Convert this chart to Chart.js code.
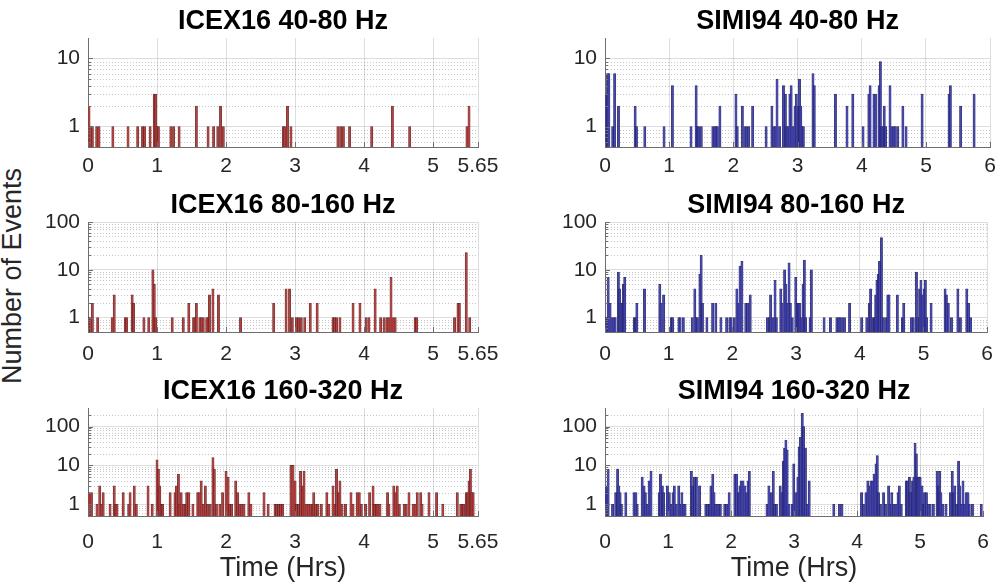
<!DOCTYPE html>
<html>
<head>
<meta charset="utf-8">
<title>Event histograms</title>
<script src="https://cdn.jsdelivr.net/npm/chart.js"></script>
<style>
body {
  margin: 0;
  background: #fff;
  width: 1003px;
  height: 586px;
  overflow: hidden;
  position: relative;
  font-family: "Liberation Sans", Arial, sans-serif;
}
canvas {
  position: absolute;
  left: 0;
  top: 0;
}
#ylab {
  position: absolute;
  left: 12px;
  top: 276px;
  transform: translate(-50%, -50%) rotate(-90deg);
  font-size: 27px;
  color: #262626;
  white-space: nowrap;
}
</style>
</head>
<body>
<div id="ylab">Number of Events</div>
<script>
// [hours, events] per 2-minute bin (empty bins left out)
const icex40 = [
  [0.015, 2], [0.043, 1], [0.063, 1], [0.126, 1], [0.16, 1], [0.36, 1], [0.58, 1], [0.72, 1],
  [0.79, 1], [0.82, 1], [0.90, 1], [0.96, 3], [0.98, 3], [1.0, 1], [1.02, 1], [1.20, 1],
  [1.24, 1], [1.32, 1], [1.57, 2], [1.74, 1], [1.82, 1], [1.88, 1], [1.92, 2], [1.96, 1],
  [2.83, 1], [2.85, 1], [2.89, 2], [2.94, 1], [3.62, 1], [3.66, 1], [3.70, 1], [3.79, 1],
  [4.11, 1], [4.41, 2], [4.66, 1], [5.49, 1], [5.52, 2]
];
const icex80 = [
  [0.01, 1], [0.034, 1], [0.063, 2], [0.14, 1], [0.35, 1], [0.38, 3], [0.54, 1], [0.56, 1],
  [0.64, 3], [0.66, 2], [0.81, 1], [0.88, 1], [0.94, 10], [0.96, 5], [0.98, 1], [1.22, 1],
  [1.38, 1], [1.46, 2], [1.53, 1], [1.55, 1], [1.57, 2], [1.62, 1], [1.64, 1], [1.67, 1],
  [1.72, 1], [1.74, 1], [1.76, 3], [1.81, 4], [1.89, 3], [2.21, 1], [2.69, 2], [2.87, 4],
  [2.92, 4], [2.96, 1], [3.02, 1], [3.05, 1], [3.09, 1], [3.14, 1], [3.22, 2], [3.32, 2],
  [3.55, 1], [3.57, 1], [3.60, 1], [3.65, 1], [3.84, 2], [3.94, 2], [4.03, 1], [4.07, 1],
  [4.16, 4], [4.24, 1], [4.29, 1], [4.33, 1], [4.36, 1], [4.39, 7], [4.42, 1], [4.45, 1],
  [4.74, 1], [4.76, 1], [5.31, 1], [5.36, 2], [5.38, 2], [5.48, 23], [5.53, 1]
];
const icex160 = [
  [0.01, 2], [0.05, 2], [0.13, 1], [0.17, 3], [0.19, 1], [0.22, 2], [0.32, 1], [0.38, 3],
  [0.40, 1], [0.42, 1], [0.51, 2], [0.59, 1], [0.61, 2], [0.67, 3], [0.70, 1], [0.87, 3],
  [0.93, 1], [1.00, 14], [1.02, 8], [1.04, 3], [1.06, 1], [1.08, 1], [1.19, 2], [1.26, 2],
  [1.28, 3], [1.31, 6], [1.33, 1], [1.35, 2], [1.38, 1], [1.41, 1], [1.43, 2], [1.46, 2],
  [1.52, 1], [1.59, 2], [1.61, 2], [1.64, 4], [1.67, 1], [1.70, 3], [1.73, 1], [1.77, 1],
  [1.81, 16], [1.83, 8], [1.86, 1], [1.91, 1], [1.95, 2], [2.00, 7], [2.03, 5], [2.05, 1],
  [2.08, 1], [2.14, 4], [2.17, 2], [2.20, 1], [2.23, 1], [2.26, 1], [2.33, 2], [2.36, 1],
  [2.55, 2], [2.61, 1], [2.71, 1], [2.73, 1], [2.76, 1], [2.79, 1], [2.82, 1], [2.94, 10],
  [2.97, 10], [3.00, 4], [3.02, 1], [3.05, 1], [3.08, 7], [3.11, 3], [3.13, 7], [3.16, 1],
  [3.19, 1], [3.22, 1], [3.25, 1], [3.27, 2], [3.30, 1], [3.33, 1], [3.38, 1], [3.46, 2],
  [3.49, 1], [3.55, 3], [3.58, 1], [3.60, 8], [3.63, 2], [3.65, 4], [3.68, 1], [3.73, 1],
  [3.81, 2], [3.84, 1], [3.90, 2], [3.93, 2], [3.96, 1], [4.02, 1], [4.08, 2], [4.13, 3],
  [4.15, 1], [4.18, 1], [4.20, 1], [4.23, 1], [4.34, 2], [4.36, 1], [4.43, 3], [4.45, 2],
  [4.48, 3], [4.51, 1], [4.58, 1], [4.61, 1], [4.65, 2], [4.71, 1], [4.74, 1], [4.77, 2],
  [4.82, 2], [4.84, 1], [4.94, 2], [5.05, 2], [5.14, 1], [5.35, 2], [5.40, 1], [5.42, 1],
  [5.44, 1], [5.48, 2], [5.50, 2], [5.52, 4], [5.54, 8], [5.56, 2], [5.58, 2]
];
const simi40 = [
  [0.01, 3], [0.04, 6], [0.06, 6], [0.12, 1], [0.15, 6], [0.21, 2], [0.47, 2], [0.49, 1],
  [0.62, 1], [0.92, 1], [1.05, 4], [1.34, 1], [1.42, 4], [1.44, 1], [1.46, 1], [1.50, 1],
  [1.68, 1], [1.71, 1], [1.73, 1], [1.75, 1], [1.79, 2], [2.04, 3], [2.06, 1], [2.14, 2],
  [2.18, 1], [2.21, 1], [2.24, 1], [2.30, 2], [2.51, 1], [2.60, 2], [2.63, 1], [2.65, 1],
  [2.68, 5], [2.72, 1], [2.78, 4], [2.81, 3], [2.83, 1], [2.85, 1], [2.88, 3], [2.90, 4],
  [2.93, 1], [2.96, 2], [2.98, 3], [3.01, 2], [3.03, 5], [3.05, 2], [3.07, 1], [3.09, 1],
  [3.24, 6], [3.26, 4], [3.59, 3], [3.77, 2], [3.86, 3], [4.02, 1], [4.11, 3], [4.13, 4],
  [4.19, 3], [4.22, 3], [4.27, 4], [4.29, 9], [4.31, 1], [4.33, 1], [4.35, 2], [4.37, 1],
  [4.44, 4], [4.47, 1], [4.50, 1], [4.52, 1], [4.56, 1], [4.64, 2], [4.69, 1], [4.94, 3],
  [5.36, 3], [5.38, 4], [5.54, 2], [5.75, 3]
];
const simi80 = [
  [0.015, 1], [0.03, 1], [0.05, 7], [0.08, 2], [0.11, 1], [0.14, 1], [0.16, 1], [0.21, 9],
  [0.23, 4], [0.25, 2], [0.27, 2], [0.29, 5], [0.31, 7], [0.46, 1], [0.48, 1], [0.50, 2],
  [0.62, 4], [0.86, 5], [0.88, 2], [0.92, 3], [1.04, 1], [1.06, 1], [1.16, 1], [1.18, 1],
  [1.23, 1], [1.37, 1], [1.41, 4], [1.43, 1], [1.45, 1], [1.49, 8], [1.51, 20], [1.53, 2],
  [1.60, 1], [1.69, 2], [1.74, 2], [1.82, 1], [1.91, 1], [1.96, 1], [1.98, 1], [2.03, 1],
  [2.07, 4], [2.09, 2], [2.12, 12], [2.15, 15], [2.21, 2], [2.24, 2], [2.28, 3], [2.55, 1],
  [2.58, 1], [2.60, 3], [2.64, 1], [2.67, 6], [2.69, 1], [2.76, 4], [2.78, 2], [2.82, 10],
  [2.84, 5], [2.86, 2], [2.89, 14], [2.91, 2], [2.94, 1], [2.995, 7], [3.02, 2], [3.04, 2],
  [3.06, 2], [3.08, 1], [3.11, 5], [3.13, 16], [3.15, 1], [3.22, 1], [3.24, 10], [3.44, 1],
  [3.54, 1], [3.64, 1], [3.67, 1], [3.69, 1], [3.72, 1], [3.76, 1], [3.84, 2], [4.03, 1],
  [4.11, 1], [4.15, 2], [4.17, 4], [4.21, 1], [4.23, 1], [4.25, 3], [4.27, 6], [4.29, 8],
  [4.31, 15], [4.34, 47], [4.37, 1], [4.41, 1], [4.44, 3], [4.46, 3], [4.59, 3], [4.67, 1],
  [4.69, 2], [4.81, 1], [4.84, 1], [4.89, 9], [4.91, 1], [4.94, 4], [4.96, 6], [4.98, 3],
  [5.01, 4], [5.03, 6], [5.05, 1], [5.12, 2], [5.34, 4], [5.36, 3], [5.39, 2], [5.44, 1],
  [5.54, 4], [5.58, 1], [5.68, 4], [5.71, 2], [5.74, 1]
];
const simi160 = [
  [0.01, 3], [0.03, 2], [0.05, 8], [0.12, 1], [0.17, 2], [0.20, 8], [0.22, 3], [0.24, 2],
  [0.26, 1], [0.33, 2], [0.46, 2], [0.49, 2], [0.51, 1], [0.59, 5], [0.62, 3], [0.64, 2],
  [0.67, 1], [0.70, 4], [0.73, 7], [0.86, 2], [0.88, 6], [0.91, 3], [0.93, 2], [0.99, 3],
  [1.02, 2], [1.05, 1], [1.08, 2], [1.10, 3], [1.13, 1], [1.17, 3], [1.19, 1], [1.22, 2],
  [1.25, 1], [1.27, 1], [1.37, 7], [1.39, 3], [1.42, 5], [1.45, 5], [1.50, 3], [1.60, 1],
  [1.63, 1], [1.66, 1], [1.68, 3], [1.71, 6], [1.73, 2], [1.75, 1], [1.78, 1], [1.81, 1],
  [1.83, 1], [1.90, 1], [1.93, 1], [1.97, 2], [2.06, 6], [2.09, 6], [2.12, 2], [2.14, 3],
  [2.16, 4], [2.19, 4], [2.22, 3], [2.25, 2], [2.27, 4], [2.29, 7], [2.57, 1], [2.60, 3],
  [2.64, 2], [2.67, 7], [2.69, 1], [2.72, 1], [2.78, 3], [2.81, 2], [2.83, 13], [2.85, 28],
  [2.87, 45], [2.89, 25], [2.92, 1], [2.97, 1], [2.995, 11], [3.03, 2], [3.06, 5], [3.08, 30],
  [3.10, 53], [3.13, 220], [3.15, 100], [3.18, 28], [3.21, 1], [3.24, 4], [3.63, 1], [3.72, 1],
  [3.76, 1], [4.07, 2], [4.10, 1], [4.14, 2], [4.17, 4], [4.19, 3], [4.22, 4], [4.25, 4],
  [4.27, 6], [4.30, 11], [4.32, 18], [4.34, 2], [4.37, 1], [4.42, 2], [4.45, 1], [4.50, 3],
  [4.52, 1], [4.55, 2], [4.58, 1], [4.62, 1], [4.65, 2], [4.67, 3], [4.70, 1], [4.78, 4],
  [4.80, 4], [4.83, 5], [4.85, 2], [4.88, 4], [4.90, 5], [4.92, 37], [4.94, 20], [4.96, 5],
  [4.98, 5], [5.00, 5], [5.03, 3], [5.05, 1], [5.07, 2], [5.10, 2], [5.13, 1], [5.16, 1],
  [5.21, 1], [5.27, 7], [5.29, 3], [5.31, 7], [5.33, 2], [5.36, 1], [5.41, 1], [5.48, 2],
  [5.51, 7], [5.53, 2], [5.55, 3], [5.58, 1], [5.61, 13], [5.63, 3], [5.65, 1], [5.68, 4],
  [5.70, 1], [5.73, 2], [5.76, 2], [5.78, 1], [5.83, 1], [5.97, 1]
];

const icexTicks = [0, 1, 2, 3, 4, 5, 5.65];
const simiTicks = [0, 1, 2, 3, 4, 5, 6];

const W = 1003, H = 586;
const FONT = '"Liberation Sans", Arial, sans-serif';
const TEXT = '#262626';
const AXIS = '#6e6e6e';
const RED = { fill: 'rgba(184,56,56,0.9)', edge: 'rgba(70,28,28,0.85)' };
const BLUE = { fill: 'rgba(64,64,182,0.9)', edge: 'rgba(26,26,70,0.85)' };

// plot-area boxes for the 3x2 grid
const cols = [{ left: 88, right: 478 }, { left: 605, right: 994 }];
const rows = [
  { top: 38, bottom: 147, yMax: 20, decades: [1, 10], tickPad: 7 },
  { top: 222, bottom: 332, yMax: 100, decades: [1, 10, 100], tickPad: 10 },
  { top: 408, bottom: 516, yMax: 300, decades: [1, 10, 100], tickPad: 14 }
];

const panels = [
  { title: 'ICEX16 40-80 Hz', data: icex40, col: 0, row: 0, ticks: icexTicks, color: RED },
  { title: 'SIMI94 40-80 Hz', data: simi40, col: 1, row: 0, ticks: simiTicks, color: BLUE },
  { title: 'ICEX16 80-160 Hz', data: icex80, col: 0, row: 1, ticks: icexTicks, color: RED },
  { title: 'SIMI94 80-160 Hz', data: simi80, col: 1, row: 1, ticks: simiTicks, color: BLUE },
  { title: 'ICEX16 160-320 Hz', data: icex160, col: 0, row: 2, ticks: icexTicks, color: RED },
  { title: 'SIMI94 160-320 Hz', data: simi160, col: 1, row: 2, ticks: simiTicks, color: BLUE }
];

function minorValues(min, max) {
  const out = [];
  for (const d of [0.1, 1, 10, 100]) {
    for (let k = 2; k <= 9; k++) {
      const v = k * d;
      if (v > min && v < max) out.push(v);
    }
  }
  return out;
}

// dotted minor grid under the bars, inward tick marks on top
const matlabAxes = {
  id: 'matlabAxes',
  beforeDatasetsDraw(chart, args, opts) {
    const { ctx, chartArea: a, scales: { y } } = chart;
    ctx.save();
    ctx.strokeStyle = 'rgba(0,0,0,0.22)';
    ctx.lineWidth = 1;
    ctx.setLineDash([1, 2]);
    for (const v of opts.minor) {
      const py = Math.round(y.getPixelForValue(v)) + 0.5;
      ctx.beginPath();
      ctx.moveTo(a.left, py);
      ctx.lineTo(a.right, py);
      ctx.stroke();
    }
    ctx.restore();
  },
  afterDraw(chart, args, opts) {
    const { ctx, chartArea: a, scales: { x, y } } = chart;
    ctx.save();
    ctx.strokeStyle = AXIS;
    ctx.lineWidth = 1;
    ctx.beginPath();
    for (const v of opts.decades) {
      const py = Math.round(y.getPixelForValue(v)) + 0.5;
      ctx.moveTo(a.left, py);
      ctx.lineTo(a.left + 5, py);
    }
    for (const v of opts.minor) {
      const py = Math.round(y.getPixelForValue(v)) + 0.5;
      ctx.moveTo(a.left, py);
      ctx.lineTo(a.left + 3, py);
    }
    for (const v of opts.xticks) {
      const px = Math.round(x.getPixelForValue(v)) + 0.5;
      ctx.moveTo(px, a.bottom);
      ctx.lineTo(px, a.bottom - 5);
    }
    ctx.stroke();
    ctx.restore();
  }
};

const TITLE_SIZE = 27, TITLE_LH = TITLE_SIZE * 1.2, TITLE_GAP = 0.5;
const Y_W = 60;

panels.forEach((p) => {
  const c = cols[p.col], r = rows[p.row];
  const last = p.row === 2;
  const xH = last ? 69.2 : 40;
  const minor = minorValues(0.5, r.yMax);

  const cv = document.createElement('canvas');
  cv.width = W;
  cv.height = H;
  document.body.appendChild(cv);

  new Chart(cv, {
    type: 'bar',
    data: {
      datasets: [{
        data: p.data.map(([t, n]) => ({ x: t, y: n })),
        backgroundColor: p.color.fill,
        borderColor: p.color.edge,
        borderWidth: 0.6,
        barThickness: 2.3
      }]
    },
    options: {
      responsive: false,
      animation: false,
      devicePixelRatio: 1,
      layout: {
        padding: {
          left: c.left - Y_W,
          right: W - c.right,
          top: r.top - TITLE_LH - TITLE_GAP,
          bottom: H - r.bottom - xH
        }
      },
      plugins: {
        legend: { display: false },
        tooltip: { enabled: false },
        title: {
          display: true,
          fullSize: false,
          text: p.title,
          color: '#000',
          font: { family: FONT, size: TITLE_SIZE, weight: 'bold', lineHeight: 1.2 },
          padding: { top: 0, bottom: TITLE_GAP }
        },
        matlabAxes: { minor, decades: r.decades, xticks: p.ticks }
      },
      scales: {
        x: {
          type: 'linear',
          min: 0,
          max: p.ticks[p.ticks.length - 1],
          offset: false,
          afterBuildTicks: (s) => { s.ticks = p.ticks.map((v) => ({ value: v })); },
          afterFit: (s) => { s.height = xH; },
          ticks: {
            autoSkip: false,
            maxRotation: 0,
            padding: r.tickPad,
            color: TEXT,
            font: { family: FONT, size: 21 },
            callback: (v) => String(v)
          },
          grid: { color: 'rgba(0,0,0,0.13)', drawTicks: false, offset: false },
          border: { color: AXIS, width: 1 },
          title: {
            display: last,
            text: 'Time (Hrs)',
            color: TEXT,
            font: { family: FONT, size: 27, lineHeight: 1.2 },
            padding: { top: 0, bottom: 0 }
          }
        },
        y: {
          type: 'logarithmic',
          min: 0.5,
          max: r.yMax,
          afterBuildTicks: (s) => { s.ticks = r.decades.map((v) => ({ value: v })); },
          afterFit: (s) => { s.width = Y_W; },
          ticks: {
            padding: 8,
            color: TEXT,
            font: { family: FONT, size: 21 },
            callback: (v) => String(v)
          },
          grid: { color: 'rgba(0,0,0,0.13)', drawTicks: false },
          border: { color: AXIS, width: 1 }
        }
      }
    },
    plugins: [matlabAxes]
  });
});
</script>
</body>
</html>
